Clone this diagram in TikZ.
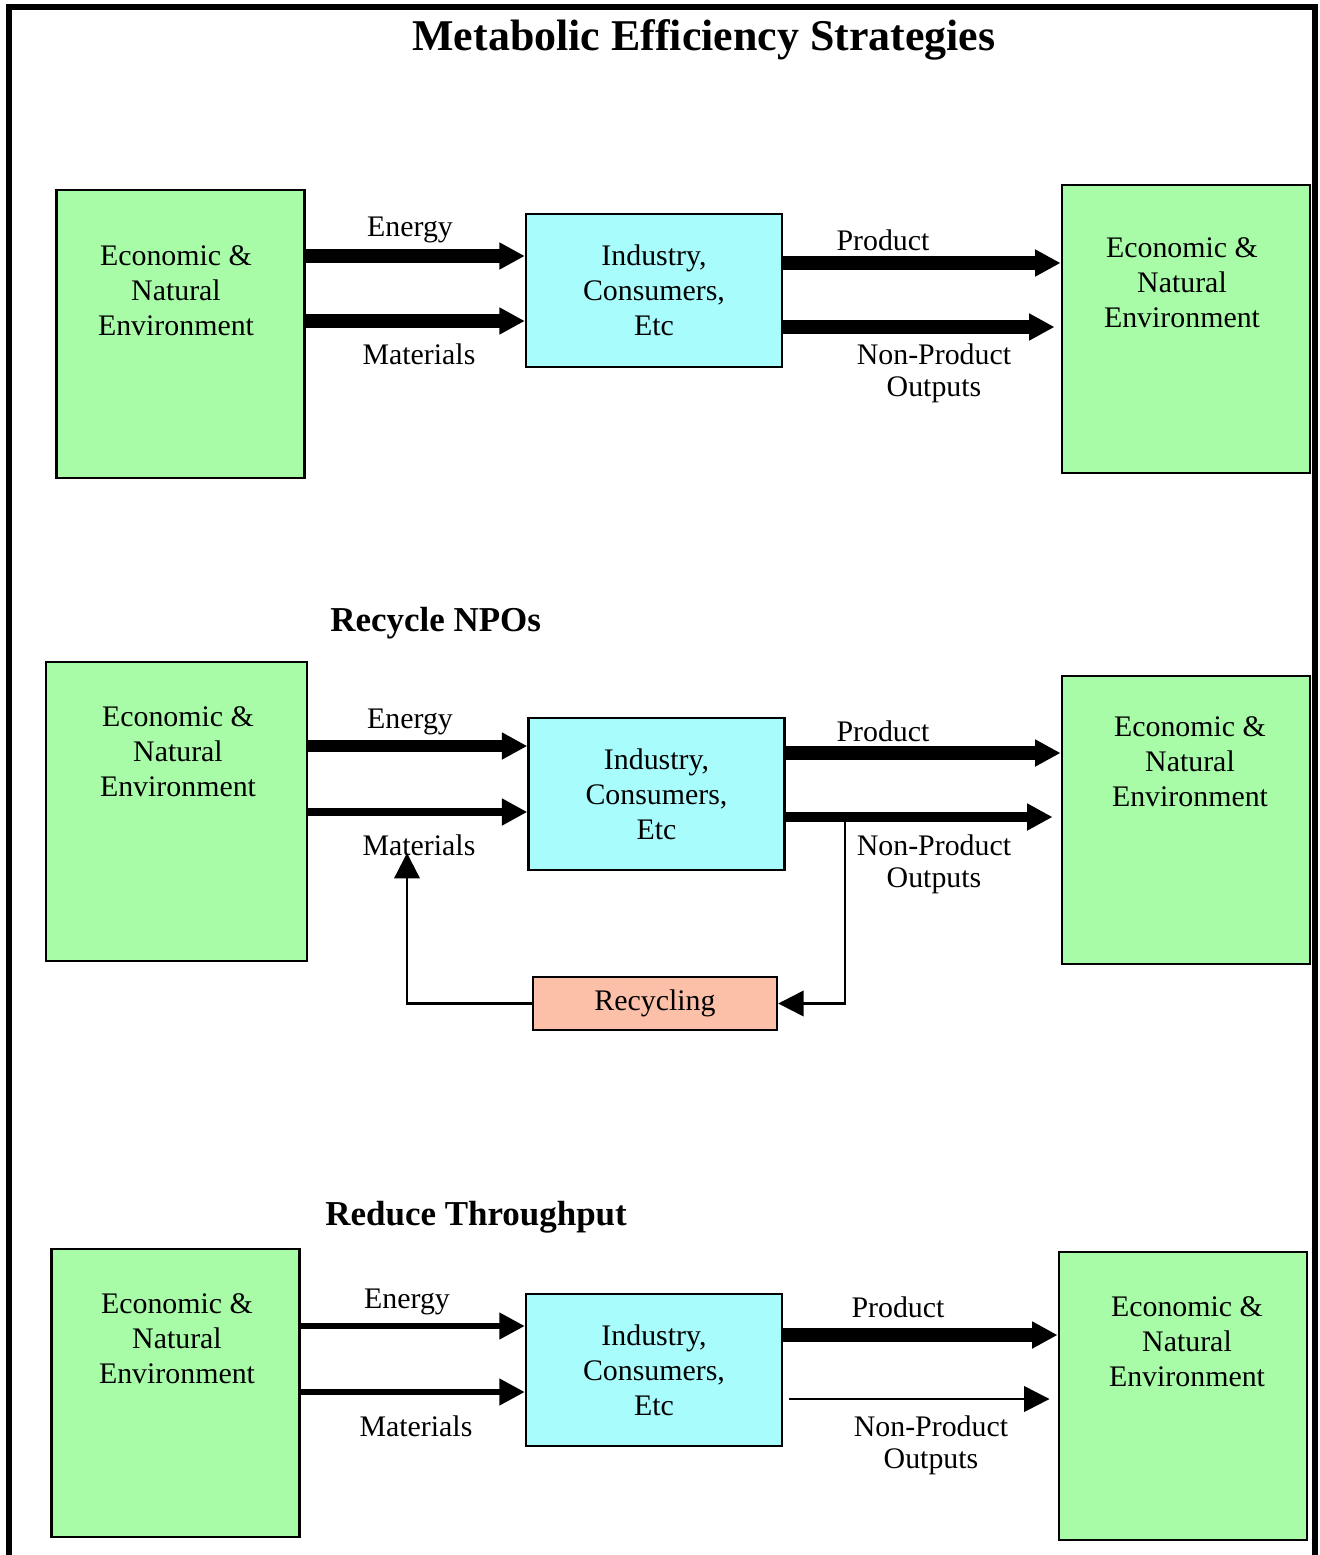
\documentclass[tikz,border=0pt]{standalone}
\usepackage{fontspec}
\setmainfont{Liberation Serif}
\usetikzlibrary{arrows.meta}
\definecolor{envgreen}{RGB}{168,252,168}
\definecolor{indcyan}{RGB}{168,252,252}
\definecolor{recsalmon}{RGB}{252,192,168}
\begin{document}
\begin{tikzpicture}[x=0.02cm,y=-0.02cm,
    envbox/.style = {draw,line width=1.4pt,fill=envgreen,minimum width=4.97cm,minimum height=5.76cm,inner sep=0pt},
    indbox/.style = {draw,line width=1.4pt,fill=indcyan,minimum width=5.12cm,minimum height=3.05cm,inner sep=0pt,align=center,font=\fontsize{17}{19.9}\selectfont},
    txt/.style = {align=center,inner sep=0pt,font=\fontsize{17}{19.9}\selectfont},
    npotxt/.style = {align=center,inner sep=0pt,font=\fontsize{17}{18.2}\selectfont},
    heading/.style = {anchor=west,inner sep=0pt,font=\fontsize{19.9}{22}\selectfont\bfseries},
    flow/.style = {line width=#1,-{Triangle[length=14.5pt,width=14.5pt]}},
    loop/.style = {line width=1.4pt,-{Triangle[length=14.5pt,width=14.5pt]}}]
\useasboundingbox (0,0) rectangle (1319,1555);
\draw[line width=3.4pt] (9,1555) -- (9,7) -- (1315,7) -- (1315,1555);
\node[inner sep=0pt,font=\fontsize{25}{28}\selectfont\bfseries] (title) at (704,40) {Metabolic Efficiency Strategies};

\node[envbox] (envL1) at (180.5,334) {};
\node[txt] (envL1txt) at (176,291) {Economic \&\\Natural\\Environment};
\node[indbox] (ind1) at (654,290.5) {Industry,\\Consumers,\\Etc};
\node[envbox] (envR1) at (1186,329) {};
\node[txt] (envR1txt) at (1182,283) {Economic \&\\Natural\\Environment};
\draw[flow=7.9pt] (envL1.east |- 0,256) -- (ind1.west |- 0,256);
\draw[flow=7.9pt] (envL1.east |- 0,321) -- (ind1.west |- 0,321);
\draw[flow=7.9pt] (ind1.east |- 0,263) -- (envR1.west |- 0,263);
\draw[flow=7.9pt] (ind1.east |- 0,327) -- ([xshift=-0.12cm]envR1.west |- 0,327);
\node[txt] (energy1) at (410,230) {Energy};
\node[txt] (mat1) at (419,354) {Materials};
\node[txt] (prod1) at (883,240) {Product};
\node[npotxt] (npo1) at (934,373) {Non-Product\\Outputs};

\node[heading] (recycleHd) at (330,623) {Recycle NPOs};
\node[envbox,minimum width=5.22cm,minimum height=5.98cm] (envL2) at (176.5,811.5) {};
\node[txt] (envL2txt) at (178,752) {Economic \&\\Natural\\Environment};
\node[indbox] (ind2) at (656.5,794) {Industry,\\Consumers,\\Etc};
\node[envbox] (envR2) at (1186,820) {};
\node[txt] (envR2txt) at (1190,762) {Economic \&\\Natural\\Environment};
\draw[flow=6.8pt] (envL2.east |- 0,746) -- (ind2.west |- 0,746);
\draw[flow=4.5pt] (envL2.east |- 0,812) -- (ind2.west |- 0,812);
\draw[flow=7.9pt] (ind2.east |- 0,753) -- (envR2.west |- 0,753);
\draw[flow=5.4pt] (ind2.east |- 0,817) -- ([xshift=-0.16cm]envR2.west |- 0,817);
\node[txt] (energy2) at (410,722) {Energy};
\node[txt] (mat2) at (419,845) {Materials};
\node[txt] (prod2) at (883,731) {Product};
\node[npotxt] (npo2) at (934,864) {Non-Product\\Outputs};
\node[draw,line width=1.4pt,fill=recsalmon,minimum width=4.88cm,minimum height=1.06cm,inner sep=0pt,font=\fontsize{17}{19.9}\selectfont] (recyc) at (655,1003.5) {Recycling};
\coordinate (npoTap) at (845,817);
\coordinate (matIn) at (407,853);
\draw[loop] (npoTap) |- (recyc.east);
\draw[loop] (recyc.west) -| (matIn);

\node[heading] (reduceHd) at (325,1217) {Reduce Throughput};
\node[envbox] (envL3) at (175.5,1393) {};
\node[txt] (envL3txt) at (177,1339) {Economic \&\\Natural\\Environment};
\node[indbox] (ind3) at (654,1370) {Industry,\\Consumers,\\Etc};
\node[envbox] (envR3) at (1183,1396) {};
\node[txt] (envR3txt) at (1187,1342) {Economic \&\\Natural\\Environment};
\draw[flow=3.4pt] (envL3.east |- 0,1326) -- (ind3.west |- 0,1326);
\draw[flow=3.4pt] (envL3.east |- 0,1392) -- (ind3.west |- 0,1392);
\draw[flow=7.9pt] (ind3.east |- 0,1335) -- (envR3.west |- 0,1335);
\draw[flow=1.4pt] ([xshift=0.12cm]ind3.east |- 0,1399) -- ([xshift=-0.16cm]envR3.west |- 0,1399);
\node[txt] (energy3) at (407,1302) {Energy};
\node[txt] (mat3) at (416,1426) {Materials};
\node[txt] (prod3) at (898,1307) {Product};
\node[npotxt] (npo3) at (931,1445) {Non-Product\\Outputs};
\end{tikzpicture}
\end{document}
